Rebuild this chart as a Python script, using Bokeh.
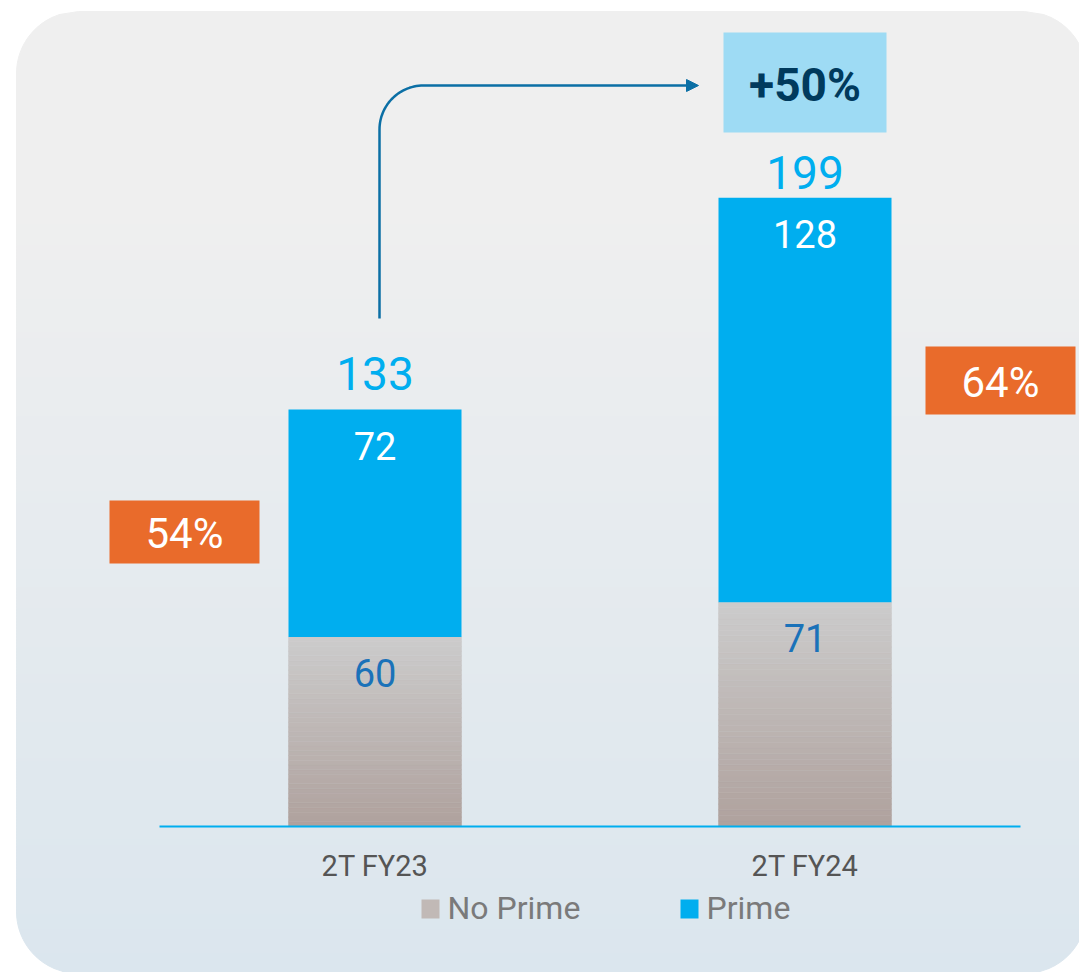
import numpy as np
from bokeh.plotting import figure
from bokeh.models import Range1d
from bokeh.core.properties import value
from bokeh.embed import file_html
from bokeh.resources import INLINE

# ---------------- data ----------------
categories = ["2T FY23", "2T FY24"]
no_prime = [60, 71]
prime = [72, 128]
totals = [133, 199]
prime_share_labels = ["54%", "64%"]
growth_label = "+50%"
series_names = ["No Prime", "Prime"]

# ---------------- layout / style ----------------
W, H = 1079, 972
OX, OY = 0, 0
PX_PER_CAT = 430.0
CAT0_X = 374.5
PX_PER_UNIT = 3.16
BASE_Y = 826.0
BAR_W = 173.0 / PX_PER_CAT
FONT = value("Roboto")
BL = 0.36  # empirical baseline correction (fraction of font size)

PRIME_C = "#00aeef"
ORANGE = "#e96b2b"
ARROW_C = "#0b6fa5"

x_start = -(CAT0_X - OX) / PX_PER_CAT
x_end = x_start + W / PX_PER_CAT
y_start = -(OY + H - BASE_Y) / PX_PER_UNIT
y_end = y_start + H / PX_PER_UNIT

p = figure(width=W, height=H, output_backend="svg", toolbar_location=None,
           x_range=Range1d(x_start, x_end), y_range=Range1d(y_start, y_end),
           x_axis_location=None, y_axis_location=None, min_border=0, title=None)
p.extra_x_ranges = {"px": Range1d(OX, OX + W)}
p.extra_y_ranges = {"px": Range1d(OY + H, OY)}
p.xgrid.visible = False
p.ygrid.visible = False
p.outline_line_color = None
p.background_fill_color = "white"
p.border_fill_color = "white"

PX = dict(x_range_name="px", y_range_name="px")


def lerp(c1, c2, t):
    t = min(max(t, 0.0), 1.0)
    r, g, b = (int(round(a + (b_ - a) * t)) for a, b_ in zip(c1, c2))
    return "#%02x%02x%02x" % (r, g, b)


def fs(n):
    return "%dpx" % n


# ---------------- rounded gradient background ----------------
L, R, T, B, RAD = 16, 1086, 11, 973, 62
TOP_C, BOT_C = (239, 239, 239), (219, 230, 238)


def inset(y):
    if y < T + RAD:
        d = T + RAD - y
    elif y > B - RAD:
        d = y - (B - RAD)
    else:
        return 0.0
    d = min(d, RAD)
    return RAD - np.sqrt(RAD ** 2 - d ** 2)


xs, ys, cols = [], [], []
step = 3
yy = T
while yy < B:
    y0, y1 = yy, min(yy + step, B)
    i0, i1 = inset(y0), inset(y1)
    xs.append([L + i0, R - i0, R - i1, L + i1])
    ys.append([y0, y0, y1, y1])
    t = ((y0 + y1) / 2 - T) / (B - T)
    cols.append(lerp(TOP_C, BOT_C, (t - 0.2) / 0.8))
    yy += step
p.patches(xs, ys, fill_color=cols, line_color=cols, line_width=1, **PX)

# ---------------- bars ----------------
idx = list(range(len(categories)))
NP_TOP, NP_BOT = (204, 204, 204), (175, 161, 157)
n_strips = 40
ql, qr, qb, qt, qc = [], [], [], [], []
for i, v in enumerate(no_prime):
    for k in range(n_strips):
        ql.append(i - BAR_W / 2)
        qr.append(i + BAR_W / 2)
        qb.append(v * k / n_strips)
        qt.append(v * (k + 1) / n_strips)
        qc.append(lerp(NP_BOT, NP_TOP, (k + 0.5) / n_strips))
p.quad(left=ql, right=qr, bottom=qb, top=qt, fill_color=qc, line_color=qc, line_width=0.5)

stack_top = [a + b for a, b in zip(no_prime, prime)]
p.vbar(x=idx, bottom=no_prime, top=stack_top, width=BAR_W, fill_color=PRIME_C, line_color=None)

# baseline
p.line(x=[159, 1020], y=[BASE_Y, BASE_Y], line_color=PRIME_C, line_width=2, **PX)

# ---------------- value labels ----------------
p.text(x=idx, y=stack_top, text=[str(v) for v in totals],
       y_offset=[-19 - BL * 46, -9 - BL * 46],
       text_align="center", text_baseline="alphabetic", text_font=FONT,
       text_font_size=fs(46), text_color=PRIME_C)
p.text(x=idx, y=stack_top, text=[str(v) for v in prime], y_offset=50 - BL * 38,
       text_align="center", text_baseline="alphabetic", text_font=FONT,
       text_font_size=fs(38), text_color="white")
p.text(x=idx, y=no_prime, text=[str(v) for v in no_prime], y_offset=50 - BL * 38,
       text_align="center", text_baseline="alphabetic", text_font=FONT,
       text_font_size=fs(38), text_color="#1a72b9")

# category labels
p.text(x=idx, y=[0] * len(idx), text=categories, y_offset=50 - BL * 29,
       text_align="center", text_baseline="alphabetic", text_font=FONT,
       text_font_size=fs(29), text_color="#555555")

# ---------------- share boxes ----------------
p.quad(left=[109, 925], right=[259, 1075], top=[500, 346], bottom=[563, 414],
       fill_color=ORANGE, line_color=None, **PX)
p.text(x=[184, 1000], y=[548, 397], text=prime_share_labels, y_offset=-BL * 42,
       text_align="center", text_baseline="alphabetic", text_font=FONT,
       text_font_size=fs(42), text_color="white", **PX)

# ---------------- growth arrow + box ----------------
ax = [379.0, 379.0]
ay = [318.0, 129.0]
for th in np.linspace(0, np.pi / 2, 30):
    ax.append(423 - 44 * np.cos(th))
    ay.append(129 - 44 * np.sin(th))
ax.append(688.0)
ay.append(85.0)
p.line(x=ax, y=ay, line_color=ARROW_C, line_width=2.5, line_join="round", **PX)
p.patch(x=[686, 698, 686], y=[79, 85, 91], fill_color=ARROW_C, line_color=ARROW_C, **PX)

p.quad(left=[723], right=[886], top=[32], bottom=[132], fill_color="#9edbf4",
       line_color=None, **PX)
p.text(x=[804.5], y=[101], text=[growth_label], y_offset=-BL * 46, text_align="center",
       text_baseline="alphabetic", text_font=FONT, text_font_size=fs(46),
       text_font_style="bold", text_color="#003a5d", **PX)

# ---------------- legend ----------------
p.quad(left=[421, 680], right=[439, 698], top=[899, 899], bottom=[918, 918],
       fill_color=["#c1b9b6", PRIME_C], line_color=None, **PX)
p.text(x=[447, 706], y=[919, 919], text=series_names, y_offset=-BL * 32, text_align="left",
       text_baseline="alphabetic", text_font=FONT, text_font_size=fs(32),
       text_color="#7a7a7a", **PX)

open("out.html", "w").write(file_html(p, INLINE))
